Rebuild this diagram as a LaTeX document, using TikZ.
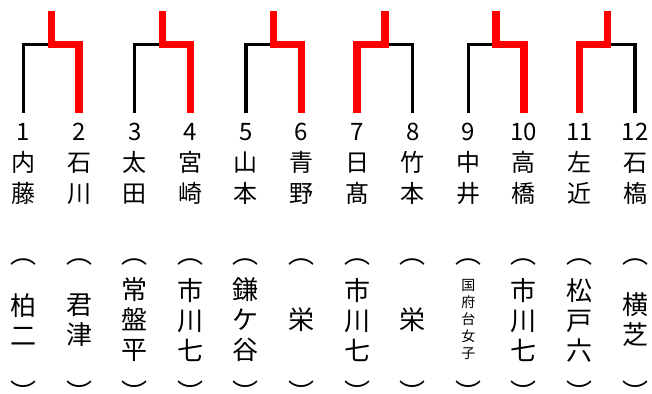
\documentclass[tikz,border=0pt]{standalone}
\usepackage{fontspec}
\setmainfont{Noto Sans CJK JP}
\usetikzlibrary{positioning}

\begin{document}
\begin{tikzpicture}[x=1pt,y=-1pt,node distance=55.6pt,
                    every label/.style={inner sep=0pt,font=\fontsize{26}{30}\selectfont}]
  \tikzset{player/.style={align=center,inner sep=0pt,font=\fontsize{24}{31}\selectfont},
           school/.style={align=center,inner sep=0pt,minimum height=100pt,
                          font=\fontsize{26}{30}\selectfont,
                          label={[label distance=4pt]90:︵},
                          label={[label distance=10pt]-90:︶}},
           lose/.style={draw=black,line width=3.5pt},
           win/.style={draw=red,line width=7.3pt}}
  \useasboundingbox (0,0) rectangle (652,393);

  \node[player]         (p1)  at (23.5,163.5) {1\\内\\藤};
  \node[player]         (p2)  [right of=p1]  {2\\石\\川};
  \node[player]         (p3)  [right of=p2]  {3\\太\\田};
  \node[player]         (p4)  [right of=p3]  {4\\宮\\崎};
  \node[player]         (p5)  [right of=p4]  {5\\山\\本};
  \node[player]         (p6)  [right of=p5]  {6\\青\\野};
  \node[player]         (p7)  [right of=p6]  {7\\日\\髙};
  \node[player]         (p8)  [right of=p7]  {8\\竹\\本};
  \node[player]         (p9)  [right of=p8]  {9\\中\\井};
  \node[player]         (p10) [right of=p9]  {10\\高\\橋};
  \node[player]         (p11) [right of=p10] {11\\左\\近};
  \node[player]         (p12) [right of=p11] {12\\石\\槗};

  \node[school]         (s1)  at (23.5,320)  {柏\\二};
  \node[school]         (s2)  [right of=s1]  {君\\津};
  \node[school]         (s3)  [right of=s2]  {常\\盤\\平};
  \node[school]         (s4)  [right of=s3]  {市\\川\\七};
  \node[school]         (s5)  [right of=s4]  {鎌\\ケ\\谷};
  \node[school]         (s6)  [right of=s5]  {栄};
  \node[school]         (s7)  [right of=s6]  {市\\川\\七};
  \node[school]         (s8)  [right of=s7]  {栄};
  \node[school,font=\fontsize{14}{17}\selectfont]
                        (s9)  [right of=s8]  {国\\府\\台\\女\\子};
  \node[school]         (s10) [right of=s9]  {市\\川\\七};
  \node[school]         (s11) [right of=s10] {松\\戸\\六};
  \node[school]         (s12) [right of=s11] {横\\芝};

  % bracket corners and winner tips
  \coordinate (m1) at (51.3,44.5);   \coordinate (w1) at (51.3,11);
  \coordinate (m2) at (162.5,44.5);  \coordinate (w2) at (162.5,11);
  \coordinate (m3) at (273.7,44.5);  \coordinate (w3) at (273.7,11);
  \coordinate (m4) at (384.9,44.5);  \coordinate (w4) at (384.9,11);
  \coordinate (m5) at (496.1,44.5);  \coordinate (w5) at (496.1,11);
  \coordinate (m6) at (607.3,44.5);  \coordinate (w6) at (607.3,11);

  \path[lose] ([yshift=9.5pt]p1.north)  |- (m1)
              ([yshift=9.5pt]p3.north)  |- (m2)
              ([yshift=9.5pt]p5.north)  |- (m3)
              ([yshift=9.5pt]p8.north)  |- (m4)
              ([yshift=9.5pt]p9.north)  |- (m5)
              ([yshift=9.5pt]p12.north) |- (m6);
  \path[win]  ([yshift=9.5pt]p2.north)  |- (m1) -- (w1)
              ([yshift=9.5pt]p4.north)  |- (m2) -- (w2)
              ([yshift=9.5pt]p6.north)  |- (m3) -- (w3)
              ([yshift=9.5pt]p7.north)  |- (m4) -- (w4)
              ([yshift=9.5pt]p10.north) |- (m5) -- (w5)
              ([yshift=9.5pt]p11.north) |- (m6) -- (w6);
\end{tikzpicture}
\end{document}
